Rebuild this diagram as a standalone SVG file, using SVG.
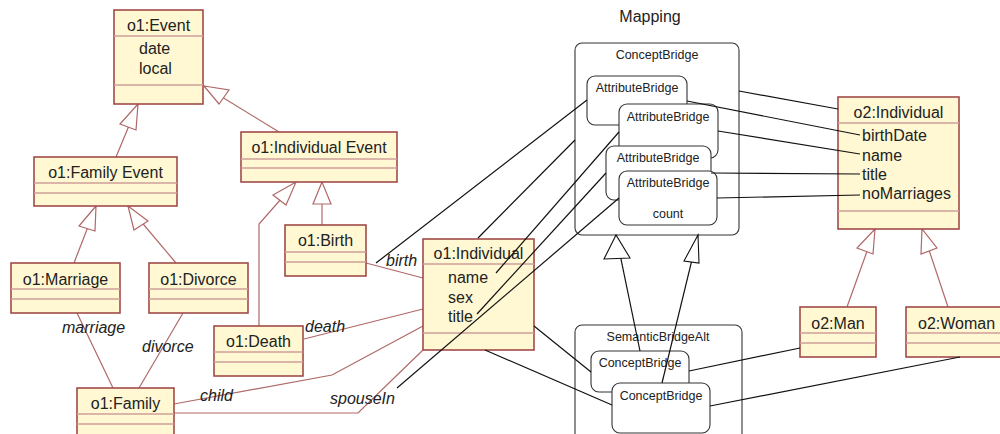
<svg xmlns="http://www.w3.org/2000/svg" width="1000" height="434" viewBox="0 0 1000 434">
<style>
.cls{fill:#fff8d2;stroke:#a24a4a;stroke-width:1.6}
.div{stroke:#cf9f98;stroke-width:1.4}
.t{font-family:"Liberation Sans",Arial,sans-serif;font-size:16px;fill:#222}
.lbl{font-family:"Liberation Sans",Arial,sans-serif;font-size:16px;font-style:italic;fill:#222}
.b{font-family:"Liberation Sans",Arial,sans-serif;font-size:12.5px;fill:#222}
.br{fill:#fff;stroke:#333;stroke-width:1.1}
.uc{fill:none;stroke:#b06868;stroke-width:1.2}
.bc{fill:none;stroke:#111;stroke-width:1.2}
.gen{fill:#fff;stroke:#b06868;stroke-width:1.2}
.genb{fill:#fff;stroke:#111;stroke-width:1.1}
</style>
<text x="650" y="22" text-anchor="middle" class="t">Mapping</text>

<g id="connectors">
  <line class="uc" x1="116" y1="157" x2="138" y2="104"/>
  <polygon class="gen" points="138,104 120,124 136,130"/>
  <line class="uc" x1="279" y1="132" x2="204" y2="86"/>
  <polygon class="gen" points="204,86 219,104 229,90"/>
  <line class="uc" x1="74" y1="263" x2="96" y2="206"/>
  <polygon class="gen" points="96,206 79,226 95,231"/>
  <line class="uc" x1="176" y1="263" x2="128" y2="206"/>
  <polygon class="gen" points="128,206 134,230 148,221"/>
  <polyline class="uc" points="259,326 259,224 296,182"/>
  <polygon class="gen" points="296,182 273,195 286,205"/>
  <line class="uc" x1="322" y1="225" x2="322" y2="182"/>
  <polygon class="gen" points="322,182 313,204 331,204"/>
  <line class="uc" x1="77" y1="313" x2="113" y2="388"/>
  <line class="uc" x1="183" y1="313" x2="139" y2="388"/>
  <line class="uc" x1="366" y1="263" x2="423" y2="278"/>
  <line class="uc" x1="304" y1="339" x2="423" y2="309"/>
  <polyline class="uc" points="174,404 332,375 423,326"/>
  <polyline class="uc" points="174,413 358,413 423,350"/>
  <line class="uc" x1="847" y1="307" x2="875" y2="229"/>
  <polygon class="gen" points="875,229 857,248 873,254"/>
  <line class="uc" x1="948" y1="307" x2="922" y2="229"/>
  <polygon class="gen" points="922,229 921,254 937,248"/>
</g>

<g id="o1-event">
  <rect class="cls" x="114" y="10" width="89" height="94"/>
  <line class="div" x1="114" y1="36" x2="203" y2="36"/>
  <line class="div" x1="114" y1="85" x2="203" y2="85"/>
  <text x="158.5" y="31" text-anchor="middle" class="t">o1:Event</text>
  <text x="139" y="54" class="t">date</text>
  <text x="139" y="74" class="t">local</text>
</g>
<g id="o1-family-event">
  <rect class="cls" x="34" y="157" width="143" height="49"/>
  <line class="div" x1="34" y1="183" x2="177" y2="183"/>
  <line class="div" x1="34" y1="193" x2="177" y2="193"/>
  <text x="105.5" y="178" text-anchor="middle" class="t">o1:Family Event</text>
</g>
<g id="o1-individual-event">
  <rect class="cls" x="241" y="132" width="156" height="50"/>
  <line class="div" x1="241" y1="159" x2="397" y2="159"/>
  <line class="div" x1="241" y1="168" x2="397" y2="168"/>
  <text x="319" y="153" text-anchor="middle" class="t">o1:Individual Event</text>
</g>
<g id="o1-marriage">
  <rect class="cls" x="11" y="263" width="109" height="50"/>
  <line class="div" x1="11" y1="289" x2="120" y2="289"/>
  <line class="div" x1="11" y1="299" x2="120" y2="299"/>
  <text x="65.5" y="285" text-anchor="middle" class="t">o1:Marriage</text>
</g>
<g id="o1-divorce">
  <rect class="cls" x="149" y="263" width="99" height="50"/>
  <line class="div" x1="149" y1="289" x2="248" y2="289"/>
  <line class="div" x1="149" y1="299" x2="248" y2="299"/>
  <text x="198.5" y="285" text-anchor="middle" class="t">o1:Divorce</text>
</g>
<g id="o1-birth">
  <rect class="cls" x="285" y="225" width="81" height="51"/>
  <line class="div" x1="285" y1="252" x2="366" y2="252"/>
  <line class="div" x1="285" y1="262" x2="366" y2="262"/>
  <text x="325.5" y="246" text-anchor="middle" class="t">o1:Birth</text>
</g>
<g id="o1-death">
  <rect class="cls" x="214" y="326" width="89" height="50"/>
  <line class="div" x1="214" y1="352" x2="303" y2="352"/>
  <line class="div" x1="214" y1="362" x2="303" y2="362"/>
  <text x="258.5" y="347" text-anchor="middle" class="t">o1:Death</text>
</g>
<g id="o1-family">
  <rect class="cls" x="77" y="388" width="97" height="60"/>
  <line class="div" x1="77" y1="414" x2="174" y2="414"/>
  <line class="div" x1="77" y1="424" x2="174" y2="424"/>
  <text x="125.5" y="409" text-anchor="middle" class="t">o1:Family</text>
</g>
<g id="o1-individual">
  <rect class="cls" x="423" y="239" width="111" height="111"/>
  <line class="div" x1="423" y1="264" x2="534" y2="264"/>
  <line class="div" x1="423" y1="333" x2="534" y2="333"/>
  <text x="478.5" y="259" text-anchor="middle" class="t">o1:Individual</text>
  <text x="448" y="283" class="t">name</text>
  <text x="448" y="303" class="t">sex</text>
  <text x="448" y="322" class="t">title</text>
</g>
<g id="o2-individual">
  <rect class="cls" x="838" y="97" width="121" height="132"/>
  <line class="div" x1="838" y1="123" x2="959" y2="123"/>
  <line class="div" x1="838" y1="211" x2="959" y2="211"/>
  <text x="898.5" y="118" text-anchor="middle" class="t">o2:Individual</text>
  <text x="862" y="141" class="t">birthDate</text>
  <text x="862" y="161" class="t">name</text>
  <text x="862" y="180" class="t">title</text>
  <text x="862" y="199" class="t">noMarriages</text>
</g>
<g id="o2-man">
  <rect class="cls" x="800" y="307" width="76" height="50"/>
  <line class="div" x1="800" y1="333" x2="876" y2="333"/>
  <line class="div" x1="800" y1="343" x2="876" y2="343"/>
  <text x="838" y="329" text-anchor="middle" class="t">o2:Man</text>
</g>
<g id="o2-woman">
  <rect class="cls" x="906" y="307" width="97" height="50"/>
  <line class="div" x1="906" y1="333" x2="1003" y2="333"/>
  <line class="div" x1="906" y1="343" x2="1003" y2="343"/>
  <text x="918" y="329" class="t">o2:Woman</text>
</g>

<g id="concept-bridge">
  <rect class="br" x="575" y="43" width="164" height="192" rx="7"/>
  <text x="657" y="59" text-anchor="middle" class="b">ConceptBridge</text>
</g>
<g id="attribute-bridge-1">
  <rect class="br" x="587" y="76" width="100" height="49" rx="8"/>
  <text x="637" y="92" text-anchor="middle" class="b">AttributeBridge</text>
</g>
<g id="attribute-bridge-2">
  <rect class="br" x="619" y="104" width="99" height="54" rx="8"/>
  <text x="668" y="121" text-anchor="middle" class="b">AttributeBridge</text>
</g>
<g id="attribute-bridge-3">
  <rect class="br" x="606" y="146" width="105" height="54" rx="8"/>
  <text x="658" y="162" text-anchor="middle" class="b">AttributeBridge</text>
</g>
<g id="attribute-bridge-4">
  <rect class="br" x="619" y="171" width="98" height="54" rx="8"/>
  <text x="668" y="187" text-anchor="middle" class="b">AttributeBridge</text>
  <text x="668" y="218" text-anchor="middle" class="b">count</text>
</g>
<g id="semantic-bridge-alt">
  <rect class="br" x="575" y="325" width="167" height="130" rx="7"/>
  <text x="658" y="341" text-anchor="middle" class="b">SemanticBridgeAlt</text>
</g>
<g id="concept-bridge-a">
  <rect class="br" x="591" y="351" width="98" height="41" rx="8"/>
  <text x="640" y="367" text-anchor="middle" class="b">ConceptBridge</text>
</g>
<g id="concept-bridge-b">
  <rect class="br" x="612" y="383" width="98" height="50" rx="8"/>
  <text x="661" y="400" text-anchor="middle" class="b">ConceptBridge</text>
</g>

<g id="mapping-connectors">
  <line class="bc" x1="376" y1="263" x2="587" y2="100"/>
  <line class="bc" x1="478" y1="238" x2="575" y2="140"/>
  <line class="bc" x1="496" y1="273" x2="619" y2="132"/>
  <line class="bc" x1="477" y1="314" x2="606" y2="173"/>
  <line class="bc" x1="397" y1="388" x2="619" y2="198"/>
  <line class="bc" x1="739" y1="91" x2="838" y2="109"/>
  <line class="bc" x1="687" y1="101" x2="860" y2="135"/>
  <line class="bc" x1="718" y1="131" x2="860" y2="154"/>
  <line class="bc" x1="711" y1="173" x2="860" y2="174"/>
  <line class="bc" x1="717" y1="198" x2="860" y2="195"/>
  <line class="bc" x1="534" y1="326" x2="591" y2="372"/>
  <line class="bc" x1="485" y1="350" x2="612" y2="405"/>
  <line class="bc" x1="689" y1="371" x2="800" y2="348"/>
  <line class="bc" x1="710" y1="406" x2="960" y2="357"/>
  <line class="bc" x1="640" y1="351" x2="616" y2="235"/>
  <polygon class="genb" points="616,235 604,259 630,258"/>
  <line class="bc" x1="662" y1="383" x2="698" y2="235"/>
  <polygon class="genb" points="698,235 684,261 699,263"/>
</g>

<text x="62" y="333" class="lbl">marriage</text>
<text x="142" y="352" class="lbl">divorce</text>
<text x="386" y="266" class="lbl">birth</text>
<text x="305" y="332" class="lbl">death</text>
<text x="200" y="401" class="lbl">child</text>
<text x="330" y="404" class="lbl">spouseIn</text>
</svg>
